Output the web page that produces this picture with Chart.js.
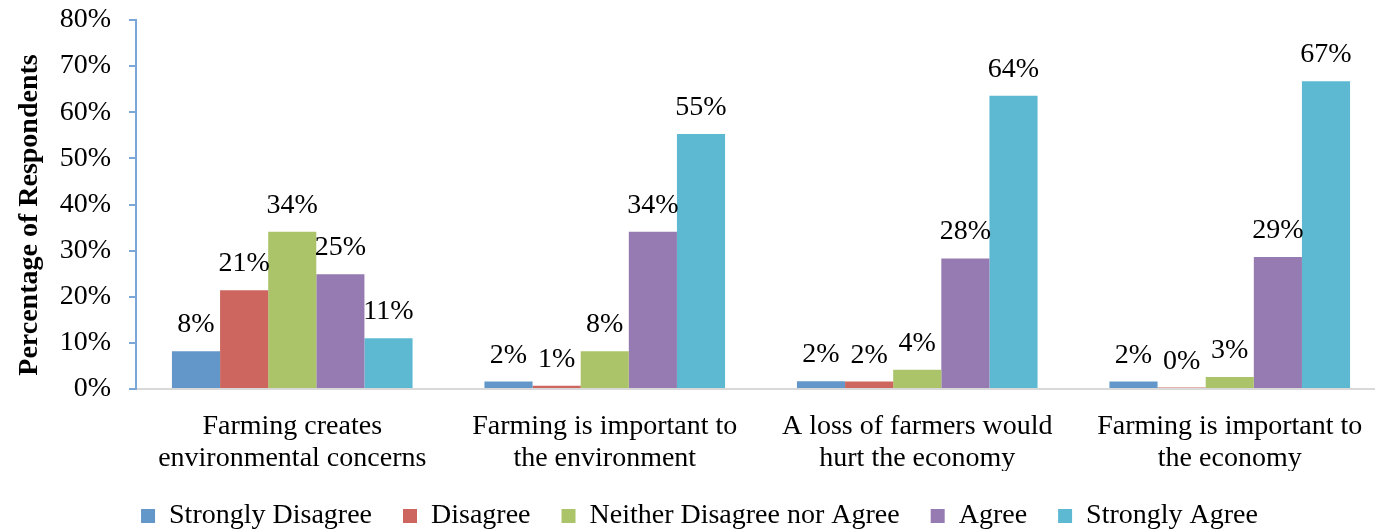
<!DOCTYPE html>
<html>
<head>
<meta charset="utf-8">
<script src="https://cdn.jsdelivr.net/npm/chart.js@4.4.1/dist/chart.umd.min.js"></script>
<style>
  html, body { margin: 0; padding: 0; background: #fff; overflow: hidden; }
  #wrap { width: 1388px; height: 529px; }
</style>
</head>
<body>
<div id="wrap"><canvas id="chart" width="1388" height="529"></canvas></div>
<script>
// Survey statements (x-axis categories, wrapped onto two lines)
const categories = [
  ['Farming creates', 'environmental concerns'],
  ['Farming is important to', 'the environment'],
  ['A loss of farmers would', 'hurt the economy'],
  ['Farming is important to', 'the economy']
];

// Share of respondents (%) per answer
const stronglyDisagree = [8.2, 1.6, 1.7, 1.6];
const disagree         = [21.4, 0.7, 1.6, 0.3];
const neither          = [34.1, 8.2, 4.2, 2.6];
const agree            = [24.9, 34.1, 28.3, 28.6];
const stronglyAgree    = [11.0, 55.3, 63.6, 66.7];

const seriesNames = ['Strongly Disagree', 'Disagree', 'Neither Disagree nor Agree', 'Agree', 'Strongly Agree'];
const seriesColors = ['#6397ca', '#cd665f', '#abc46a', '#957bb1', '#5db9d2'];

const yTicks = [0, 10, 20, 30, 40, 50, 60, 70, 80];

const FONT = '"Liberation Serif", "DejaVu Serif", serif';
const SIZE = 28;

// Percent labels drawn above every bar
const barLabels = {
  id: 'barLabels',
  afterDatasetsDraw(chart) {
    const ctx = chart.ctx;
    ctx.save();
    ctx.font = SIZE + 'px ' + FONT;
    ctx.fillStyle = '#000';
    ctx.textAlign = 'center';
    ctx.textBaseline = 'alphabetic';
    chart.data.datasets.forEach((ds, i) => {
      chart.getDatasetMeta(i).data.forEach((bar, j) => {
        ctx.fillText(Math.round(ds.data[j]) + '%', bar.x, bar.y - 19);
      });
    });
    ctx.restore();
  }
};

const allSeries = [stronglyDisagree, disagree, neither, agree, stronglyAgree];

new Chart(document.getElementById('chart'), {
  type: 'bar',
  data: {
    labels: categories,
    datasets: allSeries.map((vals, i) => ({
      label: seriesNames[i],
      data: vals,
      backgroundColor: seriesColors[i],
      borderWidth: 0,
      barPercentage: 1.0,
      categoryPercentage: 0.77
    }))
  },
  options: {
    responsive: false,
    animation: false,
    layout: { padding: { left: 13, right: 2, top: 20, bottom: -11 } },
    plugins: {
      legend: {
        position: 'bottom',
        labels: {
          color: '#000',
          font: { family: FONT, size: SIZE },
          boxWidth: 14,
          boxHeight: 14,
          padding: 31
        }
      },
      tooltip: { enabled: false }
    },
    scales: {
      x: {
        grid: { display: false, drawTicks: false },
        border: { color: '#d9d9d9', width: 2 },
        ticks: {
          color: '#000',
          font: { family: FONT, size: SIZE, lineHeight: 1.13 },
          maxRotation: 0,
          autoSkip: false,
          padding: 22
        },
        afterFit(scale) { scale.height = 82; }
      },
      y: {
        min: 0,
        max: 80,
        afterBuildTicks(scale) { scale.ticks = yTicks.map(v => ({ value: v })); },
        grid: { drawOnChartArea: false, color: '#7aa7d8', lineWidth: 2, tickLength: 7 },
        border: { color: '#7aa7d8', width: 2 },
        ticks: {
          color: '#000',
          font: { family: FONT, size: SIZE },
          padding: 18,
          callback: v => v + '%'
        },
        title: {
          display: true,
          text: 'Percentage of Respondents   ',
          color: '#000',
          font: { family: FONT, size: SIZE, weight: 'bold' },
          padding: { top: 0, bottom: 0 }
        },
        afterFit(scale) {
          scale.width = 123;
          // let the 80% label sit in the top padding instead of pushing the plot down
          scale.paddingTop = 0;
          scale.paddingBottom = 0;
        }
      }
    }
  },
  plugins: [barLabels]
});
</script>
</body>
</html>
